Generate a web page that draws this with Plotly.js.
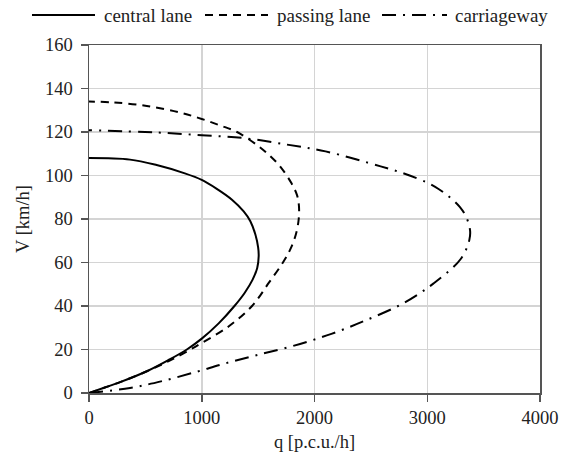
<!DOCTYPE html>
<html>
<head>
<meta charset="utf-8">
<script src="https://cdn.plot.ly/plotly-3.0.1.min.js"></script>
<style>html,body{margin:0;padding:0;background:#fff;}#chart{width:565px;height:459px;}</style>
</head>
<body>
<div id="chart"></div>
<script>
// central lane (solid)
var centralQ = [0, 140, 276, 513, 700, 868, 1000, 1150, 1290, 1380, 1450, 1492, 1505, 1500, 1475, 1431, 1372, 1268, 1130, 1000, 850, 600, 364, 0];
var centralV = [0, 2.5, 5, 10, 15, 20, 25, 32, 40, 46, 52, 57.5, 63, 67, 73, 79, 83.5, 88.9, 94, 98, 101, 104.8, 107.3, 108];
// passing lane (dashed)
var passingQ = [0, 140, 276, 513, 720, 900, 1000, 1238, 1446, 1594, 1720, 1785, 1835, 1860, 1862, 1845, 1795, 1698, 1600, 1490, 1313, 1164, 1000, 809, 513, 216, 0];
var passingV = [0, 2.5, 5, 10, 15, 20, 23, 30.6, 40, 50.6, 60, 66, 73, 80, 86, 91, 96.5, 104, 109.3, 114, 120, 123, 126, 128.9, 132, 133.6, 134];
// carriageway (dash-dot)
var carriageQ = [0, 364, 650, 950, 1180, 1470, 1800, 2150, 2468, 2764, 2972, 3061, 3224, 3295, 3345, 3373, 3381, 3372, 3340, 3290, 3200, 3100, 2996, 2800, 2587, 2098, 1757, 1372, 1000, 600, 0];
var carriageV = [0, 2.3, 5.5, 9.7, 13.2, 17.2, 21.5, 27.2, 33.7, 40.6, 47.2, 50.6, 57.5, 61.5, 66, 70.3, 73.6, 77, 81.5, 85.5, 90, 93.8, 96.8, 100.8, 104.2, 111.1, 114.2, 117.2, 118.5, 119.8, 120.8];
var seriesNames = ['central lane', 'passing lane', 'carriageway'];
var xTicks = [0, 1000, 2000, 3000, 4000];
var yTicks = [0, 20, 40, 60, 80, 100, 120, 140, 160];

var FONT = "'Liberation Serif', 'Times New Roman', serif";
var dashes = ['solid', '8px,6px', '14px,7px,2px,7px'];
var traces = [
  {x: centralQ, y: centralV, name: seriesNames[0], mode: 'lines',
   line: {color: '#000', width: 2, dash: dashes[0], shape: 'spline', smoothing: 1}},
  {x: passingQ, y: passingV, name: seriesNames[1], mode: 'lines',
   line: {color: '#000', width: 2, dash: dashes[1], shape: 'spline', smoothing: 1}},
  {x: carriageQ, y: carriageV, name: seriesNames[2], mode: 'lines',
   line: {color: '#000', width: 2, dash: dashes[2], shape: 'spline', smoothing: 1}}
];

// Legend drawn as paper-referenced keys above the plot (keeps plot margins fixed)
var legY = 1.0862;
var keyX0 = [-0.1264, 0.2572, 0.6497];
var keyX1 = [0.0133, 0.3969, 0.7938];
var textX = [0.0288, 0.4124, 0.8071];
var shapes = [], annotations = [];
for (var i = 0; i < seriesNames.length; i++) {
  shapes.push({type: 'line', xref: 'paper', yref: 'paper', x0: keyX0[i], x1: keyX1[i], y0: legY, y1: legY,
               line: {color: '#000', width: 2, dash: dashes[i]}});
  annotations.push({xref: 'paper', yref: 'paper', x: textX[i], y: legY, text: seriesNames[i],
                    showarrow: false, xanchor: 'left', yanchor: 'middle',
                    font: {family: FONT, size: 19, color: '#222'}});
}

var axisCommon = {
  showline: true, linecolor: '#555', linewidth: 1.5, mirror: true,
  showgrid: true, gridcolor: '#d4d4d4', gridwidth: 1.5,
  ticks: 'outside', ticklen: 7, tickwidth: 1.5, tickcolor: '#555',
  zeroline: false, automargin: false, tickfont: {family: FONT, size: 18.5, color: '#222'}
};
var layout = {
  width: 565, height: 459,
  margin: {l: 89, r: 25, t: 45, b: 66},
  paper_bgcolor: '#fff', plot_bgcolor: '#fff',
  font: {family: FONT, size: 18.5, color: '#222'},
  showlegend: false,
  shapes: shapes,
  annotations: annotations,
  xaxis: Object.assign({}, axisCommon, {range: [0, 4000], tickvals: xTicks, ticktext: xTicks.map(String),
    title: {text: 'q [p.c.u./h]', font: {family: FONT, size: 18.5, color: '#222'}, standoff: 8}}),
  yaxis: Object.assign({}, axisCommon, {range: [0, 160], tickvals: yTicks, ticktext: yTicks.map(String),
    ticklabelstandoff: 4,
    title: {text: 'V [km/h]', font: {family: FONT, size: 18.5, color: '#222'}, standoff: 10}})
};
Plotly.newPlot('chart', traces, layout, {staticPlot: true, displayModeBar: false});
</script>
</body>
</html>
